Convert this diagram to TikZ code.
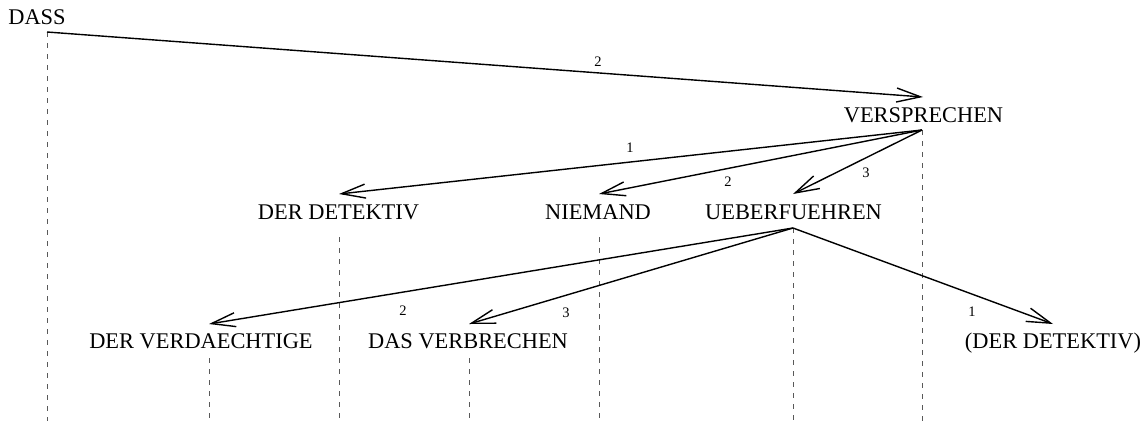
\documentclass[tikz,border=0pt]{standalone}
\usepackage{fontspec}
\setmainfont{Liberation Serif}
\usetikzlibrary{arrows.meta}
\begin{document}
\begin{tikzpicture}[x=1pt,y=-1pt,
  word/.style={anchor=base,inner sep=0pt,font=\fontsize{22.4}{26}\selectfont},
  lbl/.style={anchor=center,inner sep=0pt,font=\fontsize{14.5}{16}\selectfont},
  edge/.style={line width=1.4pt,-{Straight Barb[length=24pt,width=14pt,line width=1.4pt]}},
  proj/.style={line width=1pt,draw=black!65,dash pattern=on 5pt off 6pt}]
\useasboundingbox (0,0) rectangle (1148,421);
% words
\node[word] (dass) at (37,24) {DASS};
\node[word] (versp) at (923.5,122) {VERSPRECHEN};
\node[word] (detk) at (338.5,219) {DER DETEKTIV};
\node[word] (niem) at (598,219) {NIEMAND};
\node[word] (ueber) at (793.5,219) {UEBERFUEHREN};
\node[word] (verd) at (201,348) {DER VERDAECHTIGE};
\node[word] (verb) at (468,348) {DAS VERBRECHEN};
\node[word] (detk2) at (1053,348) {(DER DETEKTIV)};
% hooks and tips
\coordinate (dassH) at (47,32);
\coordinate (verspT) at (923,97);
\coordinate (verspH) at (922,130);
\coordinate (detkT) at (339,194);
\coordinate (detkH) at (339,237);
\coordinate (niemT) at (599,194);
\coordinate (niemH) at (599,237);
\coordinate (ueberT) at (793,194);
\coordinate (ueberH) at (793,228);
\coordinate (verdT) at (209,324);
\coordinate (verdH) at (209,358);
\coordinate (verbT) at (469,324);
\coordinate (verbH) at (469,358);
\coordinate (detk2T) at (1053,324);
% bottom ends
\coordinate (dassB) at (47,421);
\coordinate (verspB) at (922,421);
\coordinate (detkB) at (339,421);
\coordinate (niemB) at (599,421);
\coordinate (ueberB) at (793,421);
\coordinate (verdB) at (209,421);
\coordinate (verbB) at (469,421);
% projection lines
\draw[proj] (dassH) -- (dassB);
\draw[proj] (verspH) -- (verspB);
\draw[proj] (detkH) -- (detkB);
\draw[proj] (niemH) -- (niemB);
\draw[proj] (ueberH) -- (ueberB);
\draw[proj] (verdH) -- (verdB);
\draw[proj] (verbH) -- (verbB);
% dependency edges
\draw[edge] (dassH) -- (verspT);
\draw[edge] (verspH) -- (detkT);
\draw[edge] (verspH) -- (niemT);
\draw[edge] (verspH) -- (ueberT);
\draw[edge] (ueberH) -- (verdT);
\draw[edge] (ueberH) -- (verbT);
\draw[edge] (ueberH) -- (detk2T);
% labels
\node[lbl] (l1) at (598,62) {2};
\node[lbl] (l2) at (630,148) {1};
\node[lbl] (l3) at (728,182) {2};
\node[lbl] (l4) at (866,173) {3};
\node[lbl] (l5) at (403,311) {2};
\node[lbl] (l6) at (566,313) {3};
\node[lbl] (l7) at (972,312) {1};
\end{tikzpicture}
\end{document}
